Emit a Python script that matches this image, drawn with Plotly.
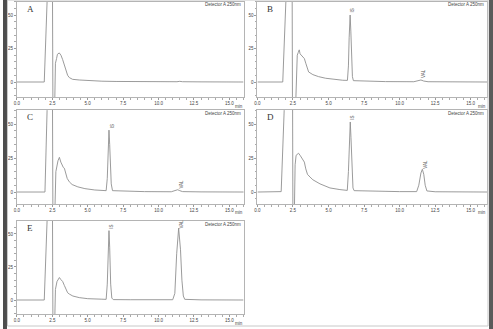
import plotly.graph_objects as go

W, H = 493, 329

# ---------------- data (time in min, signal in mAU) ----------------
t_A = [0.0, 1.0, 1.93, 2.13, 2.2, 2.48, 2.55, 2.63, 2.72, 2.8, 2.86, 2.99, 3.11, 3.23, 3.35, 3.46, 3.58, 3.7, 3.93, 4.4, 5.1, 6.0, 7.0, 8.0, 10.0, 11.3, 11.5, 11.7, 13.0, 16.0]
v_A = [0.0, 0.0, 0.0, 60, 150, 150, -40, -40, 14, 17.5, 20.7, 21.7, 20.0, 16.7, 12.5, 8.7, 5.0, 3.3, 2.0, 1.5, 1.0, 0.6, 0.4, 0.3, 0.2, 0.2, 0.5, 0.2, 0.1, 0.0]

t_B = [0.0, 1.0, 1.78, 2.0, 2.1, 2.42, 2.47, 2.62, 2.75, 2.8, 2.87, 2.94, 3.0, 3.1, 3.18, 3.3, 3.4, 3.5, 3.6, 3.9, 4.3, 4.8, 5.3, 6.0, 6.33, 6.4, 6.45, 6.52, 6.57, 6.63, 6.68, 6.75, 7.5, 9.0, 11.0, 11.3, 11.5, 11.7, 12.0, 16.2]
v_B = [0.0, 0.0, 0.0, 60, 150, 150, -40, -40, 15, 20, 22, 24, 21, 20, 19, 17.5, 14, 10, 7.5, 5.5, 4.0, 2.8, 2.0, 1.3, 1.2, 12, 33, 50, 38, 15, 4, 1, 0.6, 0.3, 0.2, 0.8, 1.5, 0.7, 0.2, 0.0]

t_C = [0.0, 1.0, 1.98, 2.13, 2.2, 2.48, 2.55, 2.62, 2.75, 2.9, 3.0, 3.1, 3.18, 3.28, 3.35, 3.45, 3.55, 3.7, 3.9, 4.3, 4.8, 5.5, 6.2, 6.3, 6.38, 6.44, 6.5, 6.55, 6.6, 6.66, 6.75, 7.5, 9.0, 10.9, 11.2, 11.35, 11.5, 11.7, 13.0, 16.2]
v_C = [0.0, 0.0, 0.0, 60, 150, 150, -40, -40, 15, 23, 25.5, 22, 19.5, 18, 17.5, 14, 10, 7.5, 5.5, 3.8, 2.5, 1.5, 1.0, 1.0, 10, 30, 45.5, 35, 18, 6, 1, 0.6, 0.3, 0.2, 1.2, 1.7, 1.0, 0.3, 0.1, 0.0]

t_D = [0.0, 1.5, 1.67, 1.88, 1.95, 2.45, 2.5, 2.56, 2.65, 2.72, 2.8, 2.89, 3.0, 3.12, 3.22, 3.3, 3.4, 3.52, 3.7, 3.9, 4.4, 5.1, 5.8, 6.2, 6.32, 6.4, 6.47, 6.53, 6.58, 6.65, 6.72, 6.8, 8.0, 10.0, 11.2, 11.35, 11.5, 11.6, 11.7, 11.8, 11.92, 12.5, 16.2]
v_D = [0.0, 0.2, 0.3, 60, 150, 150, -40, -40, 20, 27, 27.5, 28.5, 27, 25, 23.5, 22, 17, 13, 11, 9, 6, 3, 1.8, 1.3, 1.2, 15, 40, 51.5, 40, 15, 3, 1, 0.6, 0.3, 0.3, 5, 14, 16.7, 13, 5, 0.8, 0.2, 0.0]

t_E = [0.0, 1.0, 1.93, 2.13, 2.2, 2.48, 2.55, 2.62, 2.72, 2.83, 2.93, 3.0, 3.1, 3.23, 3.35, 3.46, 3.58, 3.7, 3.95, 4.4, 5.0, 6.0, 6.3, 6.38, 6.45, 6.5, 6.55, 6.62, 6.7, 6.8, 8.0, 11.0, 11.15, 11.28, 11.42, 11.55, 11.65, 11.75, 11.85, 13.0, 16.0]
v_E = [0.0, 0.0, 0.0, 60, 150, 150, -40, -40, 8, 14, 16.5, 17, 15.5, 14, 11, 8, 5.5, 4.5, 3.0, 1.8, 1.0, 0.6, 0.5, 12, 40, 52.5, 40, 12, 1.5, 0.3, 0.2, 0.2, 5, 35, 54.3, 38, 15, 3, 0.5, 0.1, 0.0]

panel_names = ["A", "B", "C", "D", "E"]
x_tick_vals = [0.0, 2.5, 5.0, 7.5, 10.0, 12.5, 15.0]
x_tick_text = ["0.0", "2.5", "5.0", "7.5", "10.0", "12.5", "15.0"]
y_tick_vals = [0, 25, 50]
y_tick_text = ["0", "25", "50"]

# peak labels: (panel, text, time, signal)
peak_labels = [
    ("B", "IS", 6.67, 53.5), ("B", "VAL", 11.72, 6.0),
    ("C", "IS", 6.72, 48.5), ("C", "VAL", 11.6, 5.6),
    ("D", "IS", 6.71, 54.5), ("D", "VAL", 11.83, 20.5),
    ("E", "IS", 6.72, 55.5), ("E", "VAL", 11.62, 57.5),
]

series = {"A": (t_A, v_A), "B": (t_B, v_B), "C": (t_C, v_C), "D": (t_D, v_D), "E": (t_E, v_E)}

# ---------------- layout geometry (pixels) ----------------
cols = {0: (14, 242, [0, 16.0]), 1: (256, 487, [0, 16.15])}
rows = {0: (1.5, 97, [-11.2, 60.1]), 1: (110, 204, [-8.8, 60.3]), 2: (221, 314, [-10.6, 59.8])}
pos = {"A": (0, 0), "B": (0, 1), "C": (1, 0), "D": (1, 1), "E": (2, 0)}

fig = go.Figure()
layout = dict(width=W, height=H, margin=dict(l=0, r=0, t=0, b=0),
              paper_bgcolor="white", plot_bgcolor="white", showlegend=False,
              font=dict(family="Liberation Sans, Arial", size=5, color="#444"))
annotations = []
shapes = []

for i, p in enumerate(panel_names):
    r, c = pos[p]
    x0, x1, xr = cols[c]
    y0, y1, yr = rows[r]
    k = "" if i == 0 else str(i + 1)
    t, v = series[p]
    fig.add_trace(go.Scatter(x=t, y=v, mode="lines", line=dict(color="#909090", width=0.9),
                             xaxis="x" + k, yaxis="y" + k, hoverinfo="skip"))
    axstyle = dict(showline=True, linecolor="#b4b4b4", linewidth=1, mirror=True,
                   showgrid=False, zeroline=False, ticks="outside", ticklen=2,
                   tickcolor="#999", tickwidth=0.8,
                   tickfont=dict(size=4.5, color="#444", family="Liberation Sans, Arial"))
    layout["xaxis" + k] = dict(domain=[x0 / W, x1 / W], range=xr, anchor="y" + k,
                               tickvals=x_tick_vals, ticktext=x_tick_text,
                               minor=dict(dtick=0.5, tick0=0, ticklen=1.5, tickcolor="#aaa", ticks="outside"),
                               **axstyle)
    layout["yaxis" + k] = dict(domain=[1 - y1 / H, 1 - y0 / H], range=yr, anchor="x" + k,
                               tickvals=y_tick_vals, ticktext=y_tick_text,
                               minor=dict(dtick=5, tick0=0, ticklen=1.5, tickcolor="#aaa", ticks="outside"),
                               **axstyle)
    # panel letter
    annotations.append(dict(text=p, x=(x0 + 8) / W, y=1 - (y0 + 7) / H, xref="paper", yref="paper",
                            xanchor="left", yanchor="middle", showarrow=False,
                            font=dict(family="Liberation Serif, Times New Roman", size=9, color="#333")))
    # detector label
    annotations.append(dict(text="Detector A 250nm", x=(x1 - 1) / W, y=1 - (y0 + 3) / H,
                            xref="paper", yref="paper", xanchor="right", yanchor="middle",
                            showarrow=False, font=dict(size=4.5, color="#444")))
    # min label
    annotations.append(dict(text="min", x=(x1 + 1) / W, y=1 - (y1 + 9) / H,
                            xref="paper", yref="paper", xanchor="right", yanchor="middle",
                            showarrow=False, font=dict(size=4.5, color="#444")))

for p, txt, tt, vv in peak_labels:
    i = panel_names.index(p)
    k = "" if i == 0 else str(i + 1)
    annotations.append(dict(text=txt, x=tt, y=vv, xref="x" + k, yref="y" + k,
                            xanchor="center", yanchor="middle", textangle=-90,
                            showarrow=False, font=dict(size=4.5, color="#555")))

# outer frame
shapes.append(dict(type="rect", xref="paper", yref="paper", x0=4.5 / W, x1=488 / W,
                   y0=1 - 326 / H, y1=1, line=dict(color="#c8c8c8", width=1)))
shapes.append(dict(type="rect", xref="paper", yref="paper", x0=0, x1=4 / W, y0=0, y1=1,
                   fillcolor="#4d4d4d", line=dict(width=0)))
shapes.append(dict(type="rect", xref="paper", yref="paper", x0=489 / W, x1=1, y0=0, y1=1,
                   fillcolor="#5a5a5a", line=dict(width=0)))

layout["annotations"] = annotations
layout["shapes"] = shapes
fig.update_layout(**layout)
fig.write_html("out.html")
